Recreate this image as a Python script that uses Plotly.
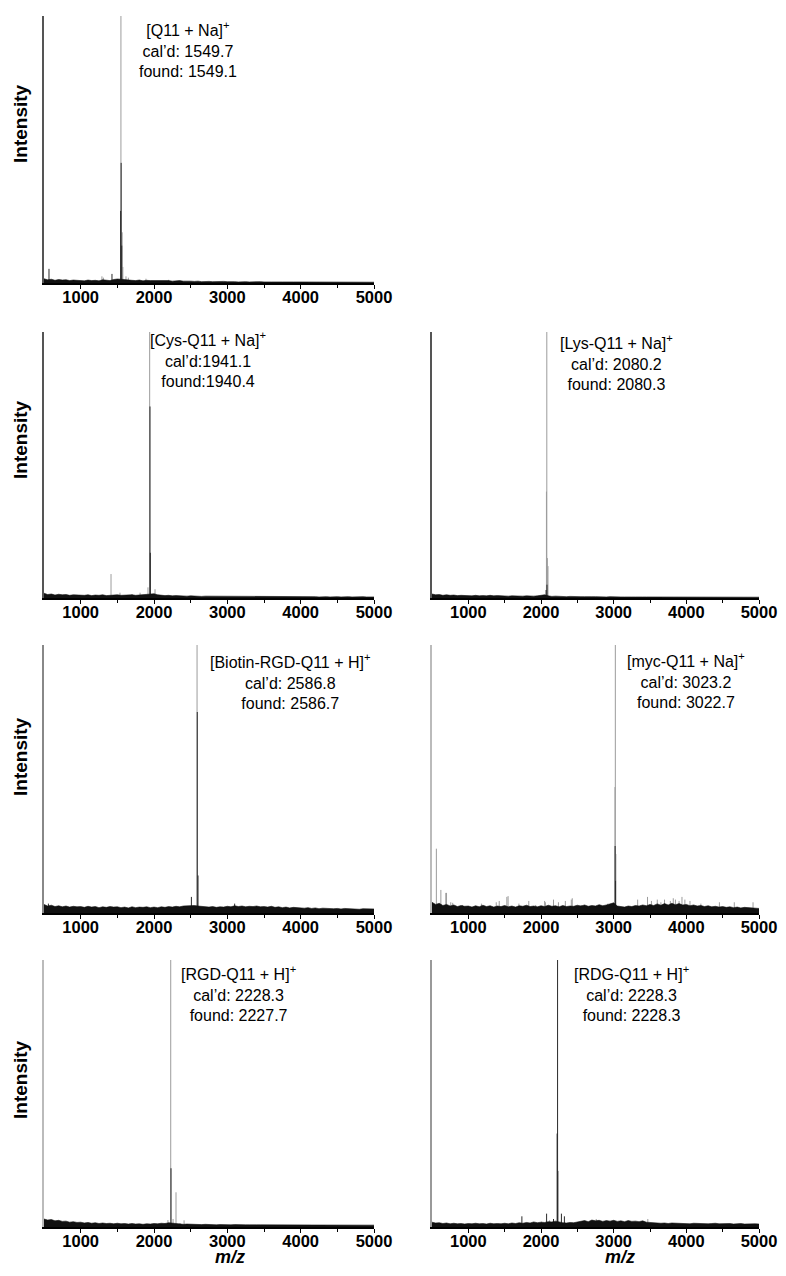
import plotly.graph_objects as go

MZ_RANGE = [500, 5000]
NOISE_MZ = list(range(500, 5001, 50))
TICK_VALS = [1000, 2000, 3000, 4000, 5000]

# ---------------- Q11 ----------------
Q11_LIGHT_MZ = [1549, 1566, 1575, 1618, 1650, 1290, 1310, 1890, 2200]
Q11_LIGHT_INT = [100, 19, 6, 2.5, 2, 2.5, 2.0, 1.6, 1.2]
Q11_DARK_MZ = [568, 1427, 1545, 1552, 1560]
Q11_DARK_INT = [5.3, 3.4, 27, 45, 14]
Q11_NOISE = [1.6, 1.2, 1.4, 1.0, 1.3, 1.1, 1.2, 0.9, 1.1, 1.0,
             1.0, 0.8, 1.1, 0.9, 1.0, 0.8, 1.2, 1.0, 0.9, 1.3,
             1.5, 1.4, 1.2, 1.1, 1.0, 0.9, 1.1, 0.8, 1.0, 0.9,
             0.9, 0.8, 1.0, 0.8, 0.9, 0.7, 0.8, 0.9, 0.7, 0.8,
             0.7, 0.6, 0.7, 0.5, 0.6, 0.6, 0.5, 0.6, 0.5, 0.6,
             0.5, 0.6, 0.5, 0.4, 0.5, 0.5, 0.4, 0.5, 0.4, 0.5,
             0.4, 0.5, 0.4, 0.4, 0.5, 0.4, 0.4, 0.5, 0.4, 0.4,
             0.4, 0.4, 0.5, 0.4, 0.4, 0.3, 0.4, 0.4, 0.3, 0.4,
             0.4, 0.3, 0.4, 0.4, 0.3, 0.4, 0.3, 0.4, 0.3, 0.4, 0.3]

# ---------------- Cys-Q11 ----------------
CYS_LIGHT_MZ = [1941, 1414, 1918, 2014, 1536, 1810, 620, 1700]
CYS_LIGHT_INT = [100, 9, 4, 3.3, 2, 2, 1.5, 1.5]
CYS_DARK_MZ = [1945, 1950]
CYS_DARK_INT = [72, 17]
CYS_NOISE = [1.8, 1.3, 1.5, 1.1, 1.4, 1.2, 1.3, 1.0, 1.2, 1.1,
             1.1, 1.0, 1.2, 0.9, 1.1, 1.0, 1.2, 0.9, 1.0, 1.1,
             1.2, 1.0, 1.1, 1.3, 1.2, 1.0, 1.1, 1.2, 1.4, 1.3,
             1.6, 1.2, 1.0, 0.9, 1.0, 0.8, 0.9, 0.8, 0.9, 0.7,
             0.8, 0.7, 0.8, 0.6, 0.7, 0.7, 0.6, 0.7, 0.6, 0.7,
             0.6, 0.7, 0.6, 0.5, 0.6, 0.6, 0.5, 0.6, 0.5, 0.6,
             0.5, 0.6, 0.5, 0.5, 0.6, 0.5, 0.5, 0.6, 0.5, 0.5,
             0.5, 0.5, 0.6, 0.5, 0.5, 0.4, 0.5, 0.5, 0.4, 0.5,
             0.5, 0.4, 0.5, 0.5, 0.4, 0.5, 0.4, 0.5, 0.4, 0.5, 0.4]

# ---------------- Lys-Q11 ----------------
LYS_LIGHT_MZ = [2080, 2075, 2088, 2096]
LYS_LIGHT_INT = [100, 40, 15, 12]
LYS_DARK_MZ = [2070, 2082]
LYS_DARK_INT = [3, 5]
LYS_NOISE = [1.5, 1.2, 1.3, 1.0, 1.2, 1.0, 1.1, 0.9, 1.0, 0.9,
             0.9, 0.8, 1.0, 0.8, 0.9, 0.8, 1.0, 0.8, 0.9, 0.8,
             0.9, 0.7, 0.8, 0.7, 0.8, 0.7, 0.8, 0.7, 0.7, 0.8,
             1.0, 1.2, 0.8, 0.6, 0.7, 0.6, 0.6, 0.5, 0.6, 0.5,
             0.6, 0.5, 0.5, 0.4, 0.5, 0.5, 0.4, 0.5, 0.4, 0.5,
             0.4, 0.5, 0.4, 0.4, 0.5, 0.4, 0.4, 0.5, 0.4, 0.4,
             0.4, 0.4, 0.5, 0.4, 0.4, 0.3, 0.4, 0.4, 0.3, 0.4,
             0.4, 0.3, 0.4, 0.4, 0.3, 0.4, 0.3, 0.4, 0.3, 0.4,
             0.3, 0.4, 0.3, 0.3, 0.4, 0.3, 0.3, 0.4, 0.3, 0.3, 0.3]

# ---------------- Biotin-RGD-Q11 ----------------
BIO_LIGHT_MZ = [2587]
BIO_LIGHT_INT = [100]
BIO_DARK_MZ = [2590, 2600, 2510, 560, 3100]
BIO_DARK_INT = [75, 14, 6, 3.5, 3.5]
BIO_NOISE = [3.2, 2.6, 2.9, 2.4, 2.7, 2.3, 2.6, 2.2, 2.5, 2.3,
             2.4, 2.1, 2.5, 2.2, 2.4, 2.0, 2.3, 2.1, 2.4, 2.2,
             2.3, 2.0, 2.2, 1.9, 2.3, 2.0, 2.2, 2.1, 2.3, 2.0,
             2.2, 2.0, 2.3, 2.1, 2.4, 2.2, 2.5, 2.3, 2.6, 2.7,
             2.9, 2.8, 2.6, 2.4, 2.3, 2.2, 2.4, 2.1, 2.3, 2.2,
             2.5, 2.3, 2.7, 2.4, 2.6, 2.3, 2.5, 2.4, 2.6, 2.3,
             2.4, 2.2, 2.5, 2.1, 2.3, 2.0, 2.2, 1.9, 2.1, 2.0,
             1.9, 1.8, 2.0, 1.7, 1.9, 1.6, 1.8, 1.7, 1.8, 1.6,
             1.7, 1.5, 1.7, 1.6, 1.5, 1.6, 1.4, 1.6, 1.5, 1.4, 1.5]

# ---------------- myc-Q11 ----------------
MYC_LIGHT_MZ = [560, 622, 690, 700, 758, 785, 920, 1180, 1384, 1425, 1530, 1547,
                1696, 1832, 1927, 2050, 2060, 2172, 2240, 2335, 2417, 2430, 2553,
                2810, 2920, 3023, 3018, 3030, 3330, 3466, 3520, 3600, 3650, 3700,
                3780, 3820, 3850, 3900, 3940, 3980, 4050, 4200, 4455, 4660, 4918]
MYC_LIGHT_INT = [24, 8.6, 7.5, 7.5, 4, 3.8, 3, 3.5, 4, 4.5, 6, 6.3,
                 3.5, 4.5, 3, 4.5, 4, 5, 4, 4.5, 5, 5.5, 3,
                 3, 3.5, 100, 47, 22, 5, 6, 4.5, 5, 4, 5,
                 4.5, 5.5, 5, 4.5, 6, 5, 4.5, 3.5, 4, 4, 4]
MYC_DARK_MZ = [3020, 3026]
MYC_DARK_INT = [25, 12]
MYC_NOISE = [4.0, 3.2, 3.6, 2.8, 3.2, 2.6, 3.0, 2.4, 2.8, 2.5,
             2.6, 2.2, 2.7, 2.3, 2.9, 2.4, 2.7, 2.2, 2.6, 2.4,
             2.8, 2.3, 2.6, 2.2, 2.7, 2.5, 2.9, 2.4, 2.6, 2.3,
             2.7, 2.4, 2.9, 2.5, 2.7, 2.3, 2.8, 2.4, 2.6, 2.5,
             2.9, 2.6, 3.0, 2.5, 2.8, 2.6, 3.1, 2.7, 3.0, 3.4,
             3.8, 2.6, 2.4, 2.2, 2.6, 2.4, 2.8, 2.6, 3.0, 2.7,
             3.2, 2.8, 3.4, 2.9, 3.5, 3.0, 3.6, 3.1, 3.5, 3.0,
             3.2, 2.7, 3.0, 2.6, 2.8, 2.4, 2.7, 2.3, 2.5, 2.2,
             2.4, 2.1, 2.3, 2.0, 2.2, 1.9, 2.1, 2.0, 1.8, 1.9, 1.7]

# ---------------- RGD-Q11 ----------------
RGD_LIGHT_MZ = [2228, 2300, 2190, 2260, 2355, 2410, 2150]
RGD_LIGHT_INT = [100, 13, 2.6, 3, 1.5, 2.5, 1.5]
RGD_DARK_MZ = [2232]
RGD_DARK_INT = [22]
RGD_NOISE = [3.0, 2.6, 2.8, 2.3, 2.5, 2.1, 2.2, 1.8, 2.0, 1.7,
             1.8, 1.5, 1.7, 1.4, 1.6, 1.3, 1.5, 1.3, 1.4, 1.2,
             1.4, 1.2, 1.3, 1.1, 1.3, 1.1, 1.2, 1.0, 1.2, 1.1,
             1.3, 1.2, 1.4, 1.3, 1.6, 1.4, 1.2, 1.1, 1.0, 1.1,
             1.0, 0.9, 1.0, 0.9, 1.0, 0.9, 1.0, 0.8, 0.9, 0.8,
             0.9, 0.8, 0.9, 0.8, 0.9, 0.8, 0.8, 0.9, 0.8, 0.8,
             0.8, 0.8, 0.9, 0.8, 0.8, 0.7, 0.8, 0.8, 0.7, 0.8,
             0.8, 0.7, 0.8, 0.8, 0.7, 0.8, 0.7, 0.8, 0.7, 0.8,
             0.7, 0.8, 0.7, 0.7, 0.8, 0.7, 0.7, 0.8, 0.7, 0.7, 0.7]

# ---------------- RDG-Q11 ----------------
RDG_LIGHT_MZ = [2118, 2008, 2760, 3470]
RDG_LIGHT_INT = [2.5, 2, 3, 3]
RDG_DARK_MZ = [2228, 2222, 2232, 1737, 2077, 2172, 2281, 2322]
RDG_DARK_INT = [100, 35, 21, 4, 5, 3, 5, 4]
RDG_NOISE = [1.8, 1.5, 1.6, 1.3, 1.5, 1.2, 1.4, 1.2, 1.3, 1.1,
             1.3, 1.2, 1.4, 1.2, 1.3, 1.1, 1.4, 1.2, 1.3, 1.2,
             1.4, 1.2, 1.5, 1.3, 1.6, 1.4, 1.7, 1.5, 1.9, 1.6,
             1.8, 1.7, 2.0, 1.9, 2.2, 1.8, 1.6, 1.5, 1.7, 1.6,
             1.9, 2.1, 2.4, 2.0, 2.6, 2.3, 2.5, 2.1, 2.4, 2.2,
             2.5, 2.1, 2.3, 2.0, 2.4, 2.1, 2.2, 2.0, 2.3, 1.8,
             1.7, 1.5, 1.6, 1.4, 1.5, 1.3, 1.5, 1.4, 1.3, 1.4,
             1.3, 1.2, 1.4, 1.3, 1.2, 1.3, 1.2, 1.3, 1.4, 1.2,
             1.3, 1.2, 1.3, 1.1, 1.2, 1.3, 1.1, 1.2, 1.1, 1.2, 1.1]

LABELS = [
    "[Q11 + Na]<sup>+</sup><br>cal’d: 1549.7<br>found: 1549.1",
    "[Cys-Q11 + Na]<sup>+</sup><br>cal’d:1941.1<br>found:1940.4",
    "[Lys-Q11 + Na]<sup>+</sup><br>cal’d: 2080.2<br>found: 2080.3",
    "[Biotin-RGD-Q11 + H]<sup>+</sup><br>cal’d: 2586.8<br>found: 2586.7",
    "[myc-Q11 + Na]<sup>+</sup><br>cal’d: 3023.2<br>found: 3022.7",
    "[RGD-Q11 + H]<sup>+</sup><br>cal’d: 2228.3<br>found: 2227.7",
    "[RDG-Q11 + H]<sup>+</sup><br>cal’d: 2228.3<br>found: 2228.3",
]

# the html body adds an 8 px margin all round; the figure fills the page inside it
OFF = 8
W, H = 786 - 2 * OFF, 1276 - 2 * OFF
COLS = [(44, 374), (432, 759)]
ROWS = [(16, 283), (332, 598), (645, 913), (960, 1227)]

panels = [
    dict(light=(Q11_LIGHT_MZ, Q11_LIGHT_INT), dark=(Q11_DARK_MZ, Q11_DARK_INT), noise=Q11_NOISE,
         row=0, col=0, lx=2464, ly=0.876, yline="#555555"),
    dict(light=(CYS_LIGHT_MZ, CYS_LIGHT_INT), dark=(CYS_DARK_MZ, CYS_DARK_INT), noise=CYS_NOISE,
         row=1, col=0, lx=2736, ly=0.898, yline="#555555"),
    dict(light=(LYS_LIGHT_MZ, LYS_LIGHT_INT), dark=(LYS_DARK_MZ, LYS_DARK_INT), noise=LYS_NOISE,
         row=1, col=1, lx=3040, ly=0.887, yline="#555555"),
    dict(light=(BIO_LIGHT_MZ, BIO_LIGHT_INT), dark=(BIO_DARK_MZ, BIO_DARK_INT), noise=BIO_NOISE,
         row=2, col=0, lx=3855, ly=0.862, yline="#888888"),
    dict(light=(MYC_LIGHT_MZ, MYC_LIGHT_INT), dark=(MYC_DARK_MZ, MYC_DARK_INT), noise=MYC_NOISE,
         row=2, col=1, lx=4000, ly=0.869, yline="#bbbbbb"),
    dict(light=(RGD_LIGHT_MZ, RGD_LIGHT_INT), dark=(RGD_DARK_MZ, RGD_DARK_INT), noise=RGD_NOISE,
         row=3, col=0, lx=3159, ly=0.873, yline="#bbbbbb"),
    dict(light=(RDG_LIGHT_MZ, RDG_LIGHT_INT), dark=(RDG_DARK_MZ, RDG_DARK_INT), noise=RDG_NOISE,
         row=3, col=1, lx=3240, ly=0.873, yline="#999999"),
]

FONT = "Liberation Sans, Arial, sans-serif"


def px_x(v):
    return (v - OFF) / W


def px_y(v):
    return 1 - (v - OFF) / H


def sticks(mz, inten):
    xs, ys = [], []
    for m, h in zip(mz, inten):
        xs += [m, m, None]
        ys += [0, h, None]
    return xs, ys


fig = go.Figure()
layout = dict(
    width=W, height=H, margin=dict(l=0, r=0, t=0, b=0, autoexpand=False),
    paper_bgcolor="white", plot_bgcolor="white", showlegend=False,
    font=dict(family=FONT, color="black"),
)
annotations = []

for i, p in enumerate(panels):
    ax = "" if i == 0 else str(i + 1)
    xr, yr = "x" + ax, "y" + ax
    lx, ly = sticks(*p["light"])
    fig.add_trace(go.Scatter(x=lx, y=ly, mode="lines", line=dict(color="#9c9c9c", width=1),
                             xaxis=xr, yaxis=yr, hoverinfo="skip"))
    dx, dy = sticks(*p["dark"])
    fig.add_trace(go.Scatter(x=dx, y=dy, mode="lines", line=dict(color="#2a2a2a", width=1),
                             xaxis=xr, yaxis=yr, hoverinfo="skip"))
    fig.add_trace(go.Scatter(x=NOISE_MZ, y=p["noise"], mode="lines", fill="tozeroy",
                             fillcolor="#111111", line=dict(color="#111111", width=0.6),
                             xaxis=xr, yaxis=yr, hoverinfo="skip"))
    c0, c1 = COLS[p["col"]]
    r0, r1 = ROWS[p["row"]]
    layout["xaxis" + ax] = dict(
        domain=[px_x(c0), px_x(c1)], anchor=yr, range=MZ_RANGE, automargin=False,
        showline=True, linecolor="black", linewidth=1.5, mirror=False,
        ticks="outside", ticklen=4, tickwidth=1.2, tickcolor="black",
        tickvals=TICK_VALS, ticktext=[str(v) for v in TICK_VALS],
        minor=dict(tickvals=[1500, 2500, 3500, 4500], ticks="outside", ticklen=3,
                   tickwidth=1, tickcolor="black"),
        showgrid=False, zeroline=False,
        tickfont=dict(family=FONT, size=16.5, color="black", weight="bold"),
    )
    layout["yaxis" + ax] = dict(
        domain=[px_y(r1), px_y(r0)], anchor=xr, range=[0, 100], automargin=False,
        showline=True, linecolor=p["yline"], linewidth=1.5,
        showticklabels=False, ticks="", showgrid=False, zeroline=False,
    )
    annotations.append(dict(
        text=LABELS[i], xref=xr, yref=yr + " domain", x=p["lx"], y=p["ly"],
        xanchor="center", yanchor="middle", showarrow=False, align="center",
        font=dict(family=FONT, size=16, color="black"),
    ))

for yc in [124, 440, 757, 1080]:
    annotations.append(dict(
        text="<b>Intensity</b>", xref="paper", yref="paper", x=px_x(20), y=px_y(yc),
        xanchor="center", yanchor="middle", textangle=-90, showarrow=False,
        font=dict(family=FONT, size=19, color="black"),
    ))

for xc in [230, 620]:
    annotations.append(dict(
        text="<b><i>m/z</i></b>", xref="paper", yref="paper", x=px_x(xc), y=0,
        xanchor="center", yanchor="bottom", showarrow=False, borderpad=0,
        font=dict(family=FONT, size=18, color="black"),
    ))

layout["annotations"] = annotations
fig.update_layout(**layout)
try:
    fig.update_xaxes(ticklabeloverflow="allow")
except Exception:
    pass
try:
    fig.update_xaxes(ticklabelstandoff=-6)
except Exception:
    pass
fig.write_html("out.html")
